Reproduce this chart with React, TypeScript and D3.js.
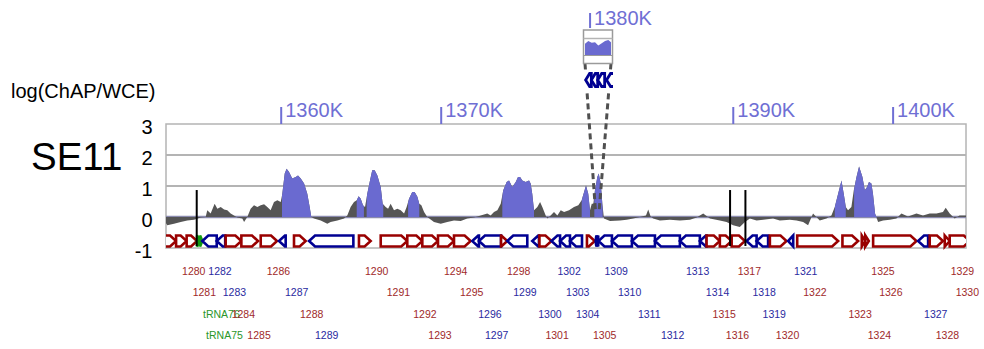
import React, { useEffect, useRef } from 'react';
import * as d3 from 'd3';

// ChAP/WCE log ratio, position in kb
const signalPos = [
  1352.80, 1352.88, 1353.30, 1353.72, 1354.13, 1354.55, 1354.97, 1355.28, 1355.38, 1355.59,
  1355.84, 1356.01, 1356.22, 1356.43, 1356.63, 1356.84, 1357.05, 1357.26, 1357.57, 1357.68,
  1357.88, 1358.09, 1358.30, 1358.51, 1358.72, 1358.93, 1359.13, 1359.34, 1359.55, 1359.76,
  1359.97, 1360.07, 1360.22, 1360.34, 1360.49, 1360.69, 1360.91, 1361.05, 1361.22, 1361.43,
  1361.63, 1361.78, 1361.88, 1362.05, 1362.47, 1362.88, 1363.09, 1363.51, 1363.93, 1364.13,
  1364.34, 1364.55, 1364.72, 1364.84, 1364.97, 1365.11, 1365.24, 1365.38, 1365.55, 1365.69,
  1365.84, 1366.01, 1366.22, 1366.34, 1366.53, 1366.68, 1366.84, 1367.05, 1367.26, 1367.47,
  1367.68, 1367.84, 1367.99, 1368.19, 1368.34, 1368.51, 1368.63, 1368.76, 1368.93, 1369.13,
  1369.55, 1369.97, 1370.38, 1370.80, 1371.22, 1371.63, 1372.05, 1372.47, 1372.88, 1373.09,
  1373.30, 1373.51, 1373.72, 1373.88, 1374.09, 1374.24, 1374.44, 1374.66, 1374.80, 1374.93,
  1375.07, 1375.28, 1375.49, 1375.59, 1375.69, 1375.80, 1376.01, 1376.18, 1376.32, 1376.53,
  1376.63, 1376.84, 1377.05, 1377.26, 1377.47, 1377.68, 1377.99, 1378.30, 1378.57, 1378.78,
  1378.93, 1379.05, 1379.19, 1379.30, 1379.41, 1379.51, 1379.61, 1380.63, 1381.43, 1381.71,
  1381.81, 1381.91, 1382.29, 1382.91, 1383.33, 1383.74, 1384.16, 1384.54, 1384.68, 1384.83,
  1384.99, 1385.41, 1386.04, 1386.66, 1387.29, 1387.71, 1388.12, 1388.54, 1389.16, 1389.58,
  1389.99, 1390.41, 1390.73, 1391.04, 1391.46, 1391.87, 1392.49, 1392.91, 1393.54, 1393.96,
  1394.37, 1394.68, 1394.99, 1395.41, 1395.83, 1396.14, 1396.35, 1396.56, 1396.77, 1396.91,
  1397.04, 1397.18, 1397.39, 1397.54, 1397.71, 1397.87, 1398.08, 1398.23, 1398.37, 1398.49,
  1398.64, 1398.74, 1398.87, 1399.06, 1399.37, 1399.79, 1400.21, 1400.52, 1400.93, 1401.46,
  1401.87, 1402.29, 1402.71, 1403.12, 1403.29, 1403.54, 1403.85, 1404.16, 1404.56,
];
const signalVal = [
  -0.20, -0.27, -0.22, -0.16, -0.11, -0.09, -0.02, 0.00, 0.22, 0.11,
  0.43, 0.27, 0.32, 0.24, 0.22, 0.11, 0.05, -0.02, -0.05, -0.16,
  0.00, 0.27, 0.38, 0.32, 0.38, 0.41, 0.32, 0.22, 0.48, 0.54,
  0.48, 0.75, 1.40, 1.56, 1.45, 1.24, 1.29, 1.34, 1.24, 1.08,
  0.75, 0.32, 0.00, -0.05, -0.11, -0.22, -0.16, -0.11, -0.05, 0.05,
  0.32, 0.48, 0.54, 0.67, 0.59, 0.38, 0.32, 0.75, 1.18, 1.51,
  1.51, 1.34, 0.97, 0.43, 0.32, 0.27, 0.43, 0.22, 0.27, 0.22,
  0.11, 0.32, 0.59, 0.81, 0.81, 0.65, 0.43, 0.38, 0.16, 0.00,
  -0.16, -0.22, -0.16, -0.11, -0.13, -0.05, -0.02, 0.05, 0.11, 0.05,
  0.16, 0.22, 0.43, 0.86, 1.13, 1.18, 0.97, 1.13, 1.29, 1.29,
  1.18, 1.13, 1.18, 1.08, 0.75, 0.22, 0.32, 0.48, 0.32, 0.05,
  -0.05, 0.05, 0.16, 0.05, 0.22, 0.16, 0.22, 0.32, 0.38, 0.54,
  0.81, 1.02, 0.75, 0.22, 0.43, 0.43, 0.86, 1.29, 1.40, 1.08,
  0.43, -0.05, -0.13, -0.11, -0.09, -0.05, 0.00, 0.05, 0.24, 0.02,
  -0.05, -0.11, -0.09, -0.11, -0.09, -0.02, 0.11, -0.05, -0.11, -0.16,
  -0.27, -0.32, -0.16, -0.05, -0.11, -0.09, -0.05, -0.11, -0.09, -0.11,
  -0.16, -0.27, 0.11, -0.11, -0.05, 0.05, 0.32, 0.75, 1.18, 0.75,
  0.32, 0.22, 0.32, 0.86, 1.29, 1.63, 1.29, 0.86, 0.97, 1.13,
  1.08, 0.75, 0.11, -0.16, -0.11, -0.09, -0.05, 0.11, 0.02, 0.11,
  0.05, 0.11, 0.11, 0.16, 0.30, 0.11, -0.05, 0.05, 0.05,
];

// enriched (blue) regions, kb
const enrichedStart = [1360.05, 1364.72, 1365.34, 1367.93, 1373.82, 1378.78, 1379.57, 1396.35, 1397.56];
const enrichedEnd = [1361.90, 1365.17, 1366.38, 1368.63, 1375.80, 1379.30, 1381.83, 1397.04, 1398.98];

// zoomed-in inset around 1380K
const insetPos = [1379.60, 1379.86, 1380.13, 1380.39, 1380.65, 1380.92, 1381.18, 1381.44, 1381.65];
const insetVal = [1.39, 1.70, 1.50, 1.55, 1.18, 1.45, 1.70, 1.82, 1.55];

const geneNames = ['1279', '1280', '1281', 'tRNA76', 'tRNA75', '1282', '1283', '1284', '1285', '1286',
  '1287', '1288', '1289', '1290', '1291', '1292', '1293', '1294', '1295', '1296',
  '1297', '1298', '1299', '1300', '1301', '1302', '1303', '1304', '1305', '1306',
  '1307', '1308', '1309', '1310', '1311', '1312', '1313', '1314', '1315', '1316',
  '1317', '1318', '1319', '1320', '1321', '1322', '1323', '1324', '1325', '1326',
  '1327', '1328', '1329', '1330'];
const geneStart = [1352.30, 1353.43, 1354.09, 1354.74, 1354.93, 1355.07, 1355.97, 1356.53, 1357.51, 1358.72,
  1359.86, 1360.80, 1361.74, 1364.86, 1366.22, 1367.88, 1368.82, 1369.80, 1370.80, 1371.94,
  1372.36, 1373.74, 1374.13, 1375.69, 1376.14, 1376.89, 1377.43, 1378.05, 1379.11, 1379.65,
  1380.10, 1380.60, 1381.30, 1382.41, 1383.66, 1385.10, 1386.66, 1387.91, 1388.33, 1389.16,
  1389.90, 1390.83, 1391.46, 1392.29, 1393.43, 1394.00, 1396.83, 1398.04, 1398.26, 1398.75,
  1401.56, 1402.29, 1403.23, 1403.54];
const geneEnd = [1353.43, 1354.09, 1354.74, 1354.93, 1355.07, 1355.97, 1356.50, 1357.51, 1358.55, 1359.74,
  1360.28, 1361.53, 1364.51, 1365.59, 1367.88, 1368.82, 1369.80, 1370.80, 1371.84, 1372.36,
  1373.74, 1374.13, 1375.38, 1376.11, 1376.89, 1377.43, 1378.05, 1378.80, 1379.60, 1380.10,
  1380.60, 1381.15, 1382.41, 1383.66, 1385.10, 1386.66, 1387.91, 1388.33, 1389.16, 1389.90,
  1390.73, 1391.46, 1392.18, 1393.33, 1393.75, 1396.56, 1397.81, 1398.26, 1398.48, 1401.46,
  1402.19, 1403.12, 1403.54, 1404.80];
const geneStrand = ['+', '+', '+', 't', 't', '-', '-', '+', '+', '+',
  '-', '+', '-', '+', '+', '+', '+', '+', '+', '-',
  '-', '+', '-', '-', '+', '-', '-', '-', '+', '-',
  '-', '-', '-', '-', '-', '-', '-', '-', '+', '+',
  '+', '-', '-', '+', '-', '+', '+', '+', '+', '+',
  '-', '+', '+', '+'];
const unlabelled = ['1279', '1306', '1307', '1308'];

const markerPos = [1354.72, 1389.80, 1390.76];
const topTicks = [1360, 1370, 1390, 1400];
const insetTick = 1380;
const yTicks = [3, 2, 1, 0, -1];
const trackName = 'SE11';
const yTitle = 'log(ChAP/WCE)';

const FONT = 'Liberation Sans, Arial, sans-serif';
const BLUE = '#6a6ad0';
const GRAY = '#555555';
const TICK = '#6f6fd4';
const strandStroke: Record<string, string> = { '+': '#990000', '-': '#000092', t: '#119911' };
const strandText: Record<string, string> = { '+': '#a02a2a', '-': '#2a2aa0', t: '#2a962a' };

const genePath = (x0: number, x1: number, strand: string, top: number, bottom: number, head: number) => {
  const mid = (top + bottom) / 2;
  const h = Math.min(head, x1 - x0);
  if (strand === '-') return `M${x1},${top}L${x0 + h},${top}L${x0},${mid}L${x0 + h},${bottom}L${x1},${bottom}Z`;
  return `M${x0},${top}L${x1 - h},${top}L${x1},${mid}L${x1 - h},${bottom}L${x0},${bottom}Z`;
};

const App = () => {
  const ref = useRef<SVGSVGElement>(null);

  useEffect(() => {
    if (!ref.current) return;
    const svg = d3.select(ref.current);
    svg.selectAll('*').remove();

    const left = 166, right = 966, top = 124, bottom = 248;
    // region around 1380K is squeezed in the main track and blown up in the inset
    const x = d3.scaleLinear().domain([1352.8, 1379.65, 1381.6, 1404.56]).range([left, 595.6, 599, right]);
    const y = d3.scaleLinear().domain([-1, 3]).range([bottom, top]);
    const xi = d3.scaleLinear().domain([1379.6, 1381.65]).range([585, 611]);
    const yi = d3.scaleLinear().domain([-1, 3]).range([64, 30]);

    const defs = svg.append('defs');
    defs.append('clipPath').attr('id', 'plotClip')
      .append('rect').attr('x', left).attr('y', top - 4).attr('width', right - left).attr('height', bottom - top + 8);
    defs.append('clipPath').attr('id', 'enriched')
      .selectAll('rect').data(enrichedStart).enter().append('rect')
      .attr('x', (d) => x(d))
      .attr('width', (d, i) => x(enrichedEnd[i]) - x(d))
      .attr('y', top).attr('height', bottom - top);
    defs.append('clipPath').attr('id', 'insetClip')
      .append('rect').attr('x', 583).attr('y', 0).attr('width', 30).attr('height', 100);

    svg.append('rect').attr('width', 984).attr('height', 349).attr('fill', '#fff');

    // grid + frame
    svg.append('g').selectAll('line').data([1, 2]).enter().append('line')
      .attr('x1', left).attr('x2', right).attr('y1', (d) => y(d)).attr('y2', (d) => y(d))
      .attr('stroke', '#b4b4b4').attr('stroke-width', 2);
    svg.append('rect').attr('x', left).attr('y', top).attr('width', right - left).attr('height', bottom - top)
      .attr('fill', 'none').attr('stroke', '#b4b4b4').attr('stroke-width', 1.5);
    svg.append('line').attr('x1', left).attr('x2', right).attr('y1', y(0)).attr('y2', y(0))
      .attr('stroke', '#8a8aae').attr('stroke-width', 2.5);

    const pts = signalPos.map((p, i) => [p, signalVal[i]] as [number, number]);
    const area = d3.area<[number, number]>().x((d) => x(d[0])).y0(y(0)).y1((d) => y(d[1]));
    const plotG = svg.append('g').attr('clip-path', 'url(#plotClip)');
    plotG.append('path').attr('d', area(pts)).attr('fill', GRAY);
    plotG.append('path').attr('d', area(pts)).attr('fill', BLUE).attr('clip-path', 'url(#enriched)');

    // genes
    const gTop = 235.5, gBottom = 246.5;
    plotG.selectAll('.gene').data(geneNames).enter().append('path')
      .attr('class', 'gene')
      .attr('d', (d, i) => genePath(x(geneStart[i]), x(geneEnd[i]), geneStrand[i], gTop, gBottom, 6))
      .attr('fill', (d, i) => (geneStrand[i] === 't' ? strandStroke.t : '#fff'))
      .attr('stroke', (d, i) => strandStroke[geneStrand[i]])
      .attr('stroke-width', 2.6).attr('stroke-linejoin', 'miter');

    // insertion markers
    svg.selectAll('.marker').data(markerPos).enter().append('line')
      .attr('x1', (d) => x(d)).attr('x2', (d) => x(d))
      .attr('y1', y(0.87)).attr('y2', bottom - 2)
      .attr('stroke', '#000').attr('stroke-width', 2);

    // gene labels, 4 staggered rows
    const rowBase = [275, 295.7, 318.3, 339];
    let k = 0;
    geneNames.forEach((name, i) => {
      if (unlabelled.includes(name)) return;
      svg.append('text')
        .attr('x', x(geneStart[i]) + 6).attr('y', rowBase[k % 4])
        .attr('font-family', FONT).attr('font-size', 10.5)
        .attr('fill', strandText[geneStrand[i]]).text(name);
      k++;
    });

    // y axis
    svg.selectAll('.ytick').data(yTicks).enter().append('text')
      .attr('x', 152.5).attr('y', (d) => y(d) + 9.5).attr('text-anchor', 'end')
      .attr('font-family', FONT).attr('font-size', 20).attr('fill', '#000')
      .text((d) => String(d));
    svg.append('text').attr('x', 11).attr('y', 98.3).attr('font-family', FONT).attr('font-size', 20)
      .attr('fill', '#000').text(yTitle);
    svg.append('text').attr('x', 31).attr('y', 170).attr('font-family', FONT).attr('font-size', 38.5)
      .attr('fill', '#000').text(trackName);

    // position ticks
    const tg = svg.append('g').selectAll('g').data(topTicks).enter().append('g');
    tg.append('line').attr('x1', (d) => x(d)).attr('x2', (d) => x(d)).attr('y1', 107).attr('y2', top)
      .attr('stroke', TICK).attr('stroke-width', 2);
    tg.append('text').attr('x', (d) => x(d) + 4).attr('y', 117).attr('font-family', FONT).attr('font-size', 20)
      .attr('fill', TICK).text((d) => `${d}K`);

    // dashed connectors from inset to squeezed region
    const conn = [[xi(1379.6), x(1379.65)], [xi(1381.65), x(1381.6)]];
    svg.selectAll('.conn').data(conn).enter().append('line')
      .attr('x1', (d) => d[0]).attr('y1', 63.5).attr('x2', (d) => d[1]).attr('y2', y(0.15))
      .attr('stroke', '#505050').attr('stroke-width', 3).attr('stroke-dasharray', '6,4');

    // inset
    const ig = svg.append('g');
    ig.append('rect').attr('x', 583.5).attr('y', yi(3)).attr('width', 29).attr('height', 33.5)
      .attr('fill', '#fff').attr('stroke', '#9a9a9a').attr('stroke-width', 1.5);
    ig.append('line').attr('x1', 583.5).attr('x2', 612.5).attr('y1', yi(2)).attr('y2', yi(2))
      .attr('stroke', '#b4b4b4').attr('stroke-width', 1.5);
    const ipts = insetPos.map((p, i) => [p, insetVal[i]] as [number, number]);
    ig.append('path')
      .attr('d', d3.area<[number, number]>().x((d) => xi(d[0])).y0(yi(0)).y1((d) => yi(d[1]))(ipts))
      .attr('fill', BLUE);
    ig.append('line').attr('x1', 583.5).attr('x2', 612.5).attr('y1', yi(0)).attr('y2', yi(0))
      .attr('stroke', '#9a9a9a').attr('stroke-width', 1);
    const ig2 = svg.append('g').attr('clip-path', 'url(#insetClip)');
    ig2.append('rect').attr('x', 583).attr('y', 70).attr('width', 30).attr('height', 20).attr('fill', '#fff');
    ig2.selectAll('path').data(geneNames.filter((d, i) => geneEnd[i] > 1379.6 && geneStart[i] < 1381.65))
      .enter().append('path')
      .attr('d', (d) => {
        const i = geneNames.indexOf(d);
        return genePath(xi(geneStart[i]), xi(geneEnd[i]), geneStrand[i], 73.5, 86.5, 4);
      })
      .attr('fill', '#fff')
      .attr('stroke', (d) => strandStroke[geneStrand[geneNames.indexOf(d)]])
      .attr('stroke-width', 2.8);
    svg.append('line').attr('x1', xi(insetTick)).attr('x2', xi(insetTick)).attr('y1', 13).attr('y2', 28)
      .attr('stroke', TICK).attr('stroke-width', 2);
    svg.append('text').attr('x', xi(insetTick) + 4).attr('y', 25).attr('font-family', FONT).attr('font-size', 20)
      .attr('fill', TICK).text(`${insetTick}K`);
  }, []);

  return (
    <svg
      ref={ref}
      width={984}
      height={349}
      style={{ position: 'absolute', left: 0, top: 0 }}
    />
  );
};

export default App;
